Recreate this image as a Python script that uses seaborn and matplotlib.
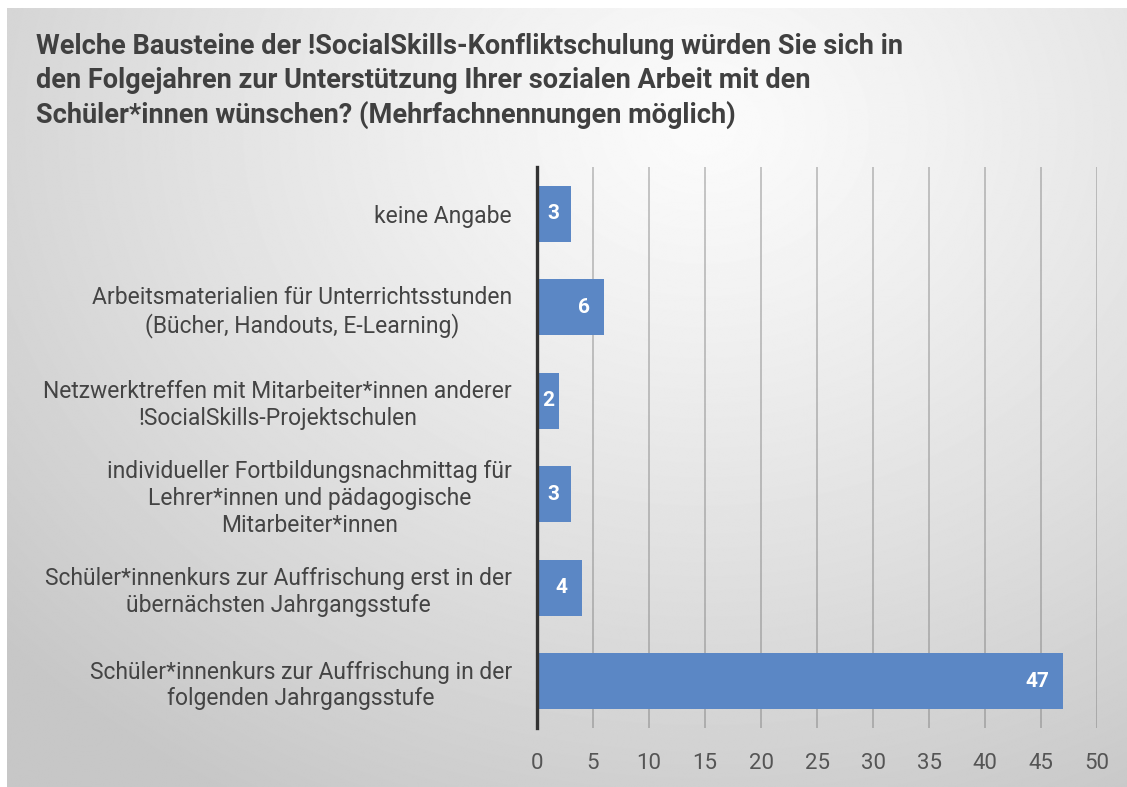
import numpy as np
import pandas as pd
import matplotlib
matplotlib.use("Agg")
import matplotlib.pyplot as plt
import seaborn as sns

categories = [
    "keine Angabe",
    "Arbeitsmaterialien für Unterrichtsstunden\n(Bücher, Handouts, E-Learning)",
    "Netzwerktreffen mit Mitarbeiter*innen anderer\n!SocialSkills-Projektschulen",
    "individueller Fortbildungsnachmittag für\nLehrer*innen und pädagogische\nMitarbeiter*innen",
    "Schüler*innenkurs zur Auffrischung erst in der\nübernächsten Jahrgangsstufe",
    "Schüler*innenkurs zur Auffrischung in der\nfolgenden Jahrgangsstufe",
]
values = [3, 6, 2, 3, 4, 47]
x_ticks = [0, 5, 10, 15, 20, 25, 30, 35, 40, 45, 50]
title = ("Welche Bausteine der !SocialSkills-Konfliktschulung würden Sie sich in\n"
         "den Folgejahren zur Unterstützung Ihrer sozialen Arbeit mit den\n"
         "Schüler*innen wünschen? (Mehrfachnennungen möglich)")

sns.set_theme(style="white")
plt.rcParams['font.family'] = ['Roboto', 'DejaVu Sans']

W, H = 1127, 787
fig = plt.figure(figsize=(W / 100, H / 100), dpi=100)
fig.patch.set_facecolor("white")

# radial gradient background
bg = fig.add_axes([7 / W, 0, 1 - 7 / W, 1 - 8 / H], zorder=0)
yy, xx = np.mgrid[0:H, 0:W]
cx, cy = 700, 120
r = np.sqrt(((xx - cx) / 1.15) ** 2 + ((yy - cy) / 0.95) ** 2)
t = np.clip(r / 820, 0, 1)
g = 0.985 - (0.985 - 0.78) * t ** 1.15
bg.imshow(g, cmap="gray", vmin=0, vmax=1, aspect="auto", extent=[0, 1, 0, 1])
bg.axis("off")

ax = fig.add_axes([537 / W, 1 - 728 / H, 560 / W, 561 / H], zorder=1)
ax.patch.set_alpha(0)

df = pd.DataFrame({"cat": categories, "val": values})
sns.barplot(data=df, x="val", y="cat", orient="h", color="#5B87C5",
            saturation=1, width=0.6, ax=ax, linewidth=0, edgecolor="none")

ax.set_xlim(0, 50)
ax.set_ylim(5.5, -0.5)
ax.set_xticks(x_ticks)
ax.set_xticklabels([str(v) for v in x_ticks])
ax.set_xlabel("")
ax.set_ylabel("")
ax.set_axisbelow(True)
ax.grid(axis="x", color="#6a6a6a", alpha=0.4, linewidth=1.3)
ax.grid(axis="y", visible=False)
for s in ["top", "right", "bottom"]:
    ax.spines[s].set_visible(False)
ax.spines["left"].set_color("#333333")
ax.spines["left"].set_linewidth(2.4)
ax.spines["left"].set_zorder(5)
ax.tick_params(axis="x", length=0, pad=18, labelsize=16, labelcolor="#555555")
ax.tick_params(axis="y", length=0, pad=18, labelsize=16.5, labelcolor="#444444")
for lbl in ax.get_yticklabels():
    lbl.set_horizontalalignment("right")
    lbl.set_multialignment("center")
    lbl.set_linespacing(1.2)

px_per_unit = 560 / 50
for i, v in enumerate(values):
    half_w = 5.5 * len(str(v))
    xr = v - (15 + half_w) / px_per_unit
    xc = max(v / 2, xr)
    ax.text(xc, i, str(v), ha="center", va="center", color="white",
            fontsize=15, fontweight="bold")

fig.text(36 / W, 1 - 33 / H, title, ha="left", va="top", fontsize=19.5,
         fontweight="bold", color="#404040", linespacing=1.32)

fig.savefig("out.png", dpi=100, facecolor=fig.get_facecolor())
